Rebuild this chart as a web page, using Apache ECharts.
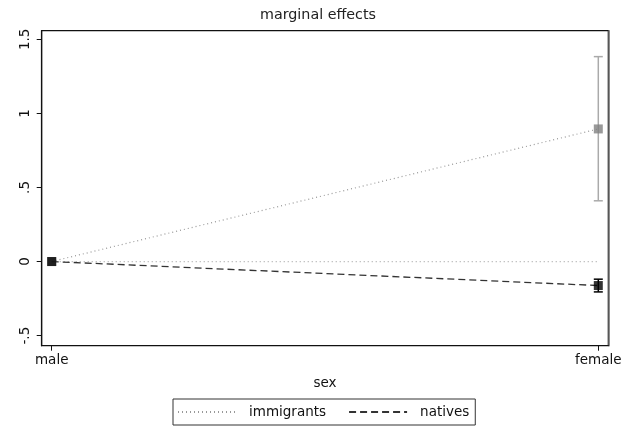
<!DOCTYPE html>
<html><head><meta charset="utf-8">
<script src="https://cdn.jsdelivr.net/npm/echarts@6/dist/echarts.min.js"></script>
<style>html,body{margin:0;padding:0;background:#fff}#c{width:636px;height:430px}</style>
</head><body><div id="c"></div>
<script>
var categories = ['male', 'female'];
var immigrants = [0, 0.895];
var immigrantsLow = [0, 0.41];
var immigrantsHigh = [0, 1.383];
var natives = [0, -0.162];
var nativesLow = [0, -0.205];
var nativesHigh = [0, -0.119];
var zeroLine = [0, 0];
var yTicks = [-0.5, 0, 0.5, 1, 1.5];
var yTickLabels = ['-.5', '0', '.5', '1', '1.5'];

var FONT = 'DejaVu Sans, sans-serif';
function pts(arr){ return arr.map(function(v,i){ return [i, v]; }); }
function ci(lo, hi){ var out=[]; for (var i=0;i<lo.length;i++){ if (hi[i]!==lo[i]) out.push([i, lo[i], hi[i]]); } return out; }
function errBar(color){
  return function(params, api){
    var x = api.value(0);
    var p1 = api.coord([x, api.value(1)]);
    var p2 = api.coord([x, api.value(2)]);
    var w = 4.5;
    var st = {stroke: color, lineWidth: 1.5};
    return {type:'group', children:[
      {type:'line', shape:{x1:p1[0],y1:p1[1],x2:p2[0],y2:p2[1]}, style:st},
      {type:'line', shape:{x1:p1[0]-w,y1:p1[1],x2:p1[0]+w,y2:p1[1]}, style:st},
      {type:'line', shape:{x1:p2[0]-w,y1:p2[1],x2:p2[0]+w,y2:p2[1]}, style:st}
    ]};
  };
}
var chart = echarts.init(document.getElementById('c'), null, {renderer:'canvas'});
chart.setOption({
  animation:false,
  backgroundColor:'#fff',
  textStyle:{fontFamily:FONT},
  title:{text:'marginal effects', left:'center', top:3, textStyle:{fontFamily:FONT, fontSize:14.3, fontWeight:'normal', color:'#222'}},
  grid:{left:41.7, right:27.7, top:30.7, bottom:84.3, show:true, borderColor:'#111', borderWidth:1.2},
  legend:{
    left:173, top:399, orient:'horizontal',
    borderColor:'#333', borderWidth:1, padding:[6,6,6,4],
    itemWidth:58, itemHeight:14, itemGap:22,
    itemStyle:{opacity:0},
    textStyle:{fontFamily:FONT, fontSize:13.5, color:'#111', padding:[0,0,0,8]},
    data:['immigrants','natives']
  },
  xAxis:{
    type:'value', min:-0.0183, max:1.0183,
    name:'sex', nameLocation:'middle', nameGap:31,
    nameTextStyle:{fontFamily:FONT, fontSize:13.5, color:'#111'},
    splitLine:{show:false},
    axisLine:{onZero:false, lineStyle:{color:'#111', width:1.2}},
    axisTick:{customValues:[0,1], length:5, lineStyle:{color:'#111'}},
    axisLabel:{customValues:[0,1], fontFamily:FONT, fontSize:13.5, color:'#111', margin:8,
      formatter:function(v){ return categories[Math.round(v)]; }}
  },
  yAxis:[{
    type:'value', min:-0.568, max:1.558,
    splitLine:{show:false},
    axisLine:{show:true, onZero:false, lineStyle:{color:'#111', width:1.2}},
    axisTick:{customValues:yTicks, length:5, lineStyle:{color:'#111'}},
    axisLabel:{customValues:yTicks, rotate:90, fontFamily:FONT, fontSize:13.5, color:'#111', margin:9,
      formatter:function(v){ var i=yTicks.indexOf(v); return i>=0?yTickLabels[i]:''; }}
  },{
    type:'value', min:-0.568, max:1.558, position:'right',
    splitLine:{show:false}, axisTick:{show:false}, axisLabel:{show:false},
    axisLine:{show:true, onZero:false, lineStyle:{color:'#666', width:1.5}}
  }],
  series:[
    {name:'zero', type:'line', data:pts(zeroLine), symbol:'none', silent:true,
      lineStyle:{color:'#aaa', width:1.2, type:[1,3]}, z:1},
    {name:'immigrants', type:'line', data:pts(immigrants), symbol:'none',
      lineStyle:{color:'#999', width:1.2, type:[1,3]}, itemStyle:{color:'#999'}, z:2},
    {name:'natives', type:'line', data:pts(natives), symbol:'none',
      lineStyle:{color:'#333', width:1.3, type:[7,4]}, itemStyle:{color:'#333'}, z:2},
    {name:'immCI', type:'custom', data:ci(immigrantsLow, immigrantsHigh), renderItem:errBar('#aaa'), z:3, silent:true},
    {name:'natCI', type:'custom', data:ci(nativesLow, nativesHigh), renderItem:errBar('#000'), z:3, silent:true},
    {name:'immPts', type:'scatter', data:pts(immigrants), symbol:'rect', symbolSize:9, itemStyle:{color:'#808080'}, z:4, silent:true},
    {name:'natPts', type:'scatter', data:pts(natives), symbol:'rect', symbolSize:9, itemStyle:{color:'#000'}, z:5, silent:true}
  ]
});
</script></body></html>
